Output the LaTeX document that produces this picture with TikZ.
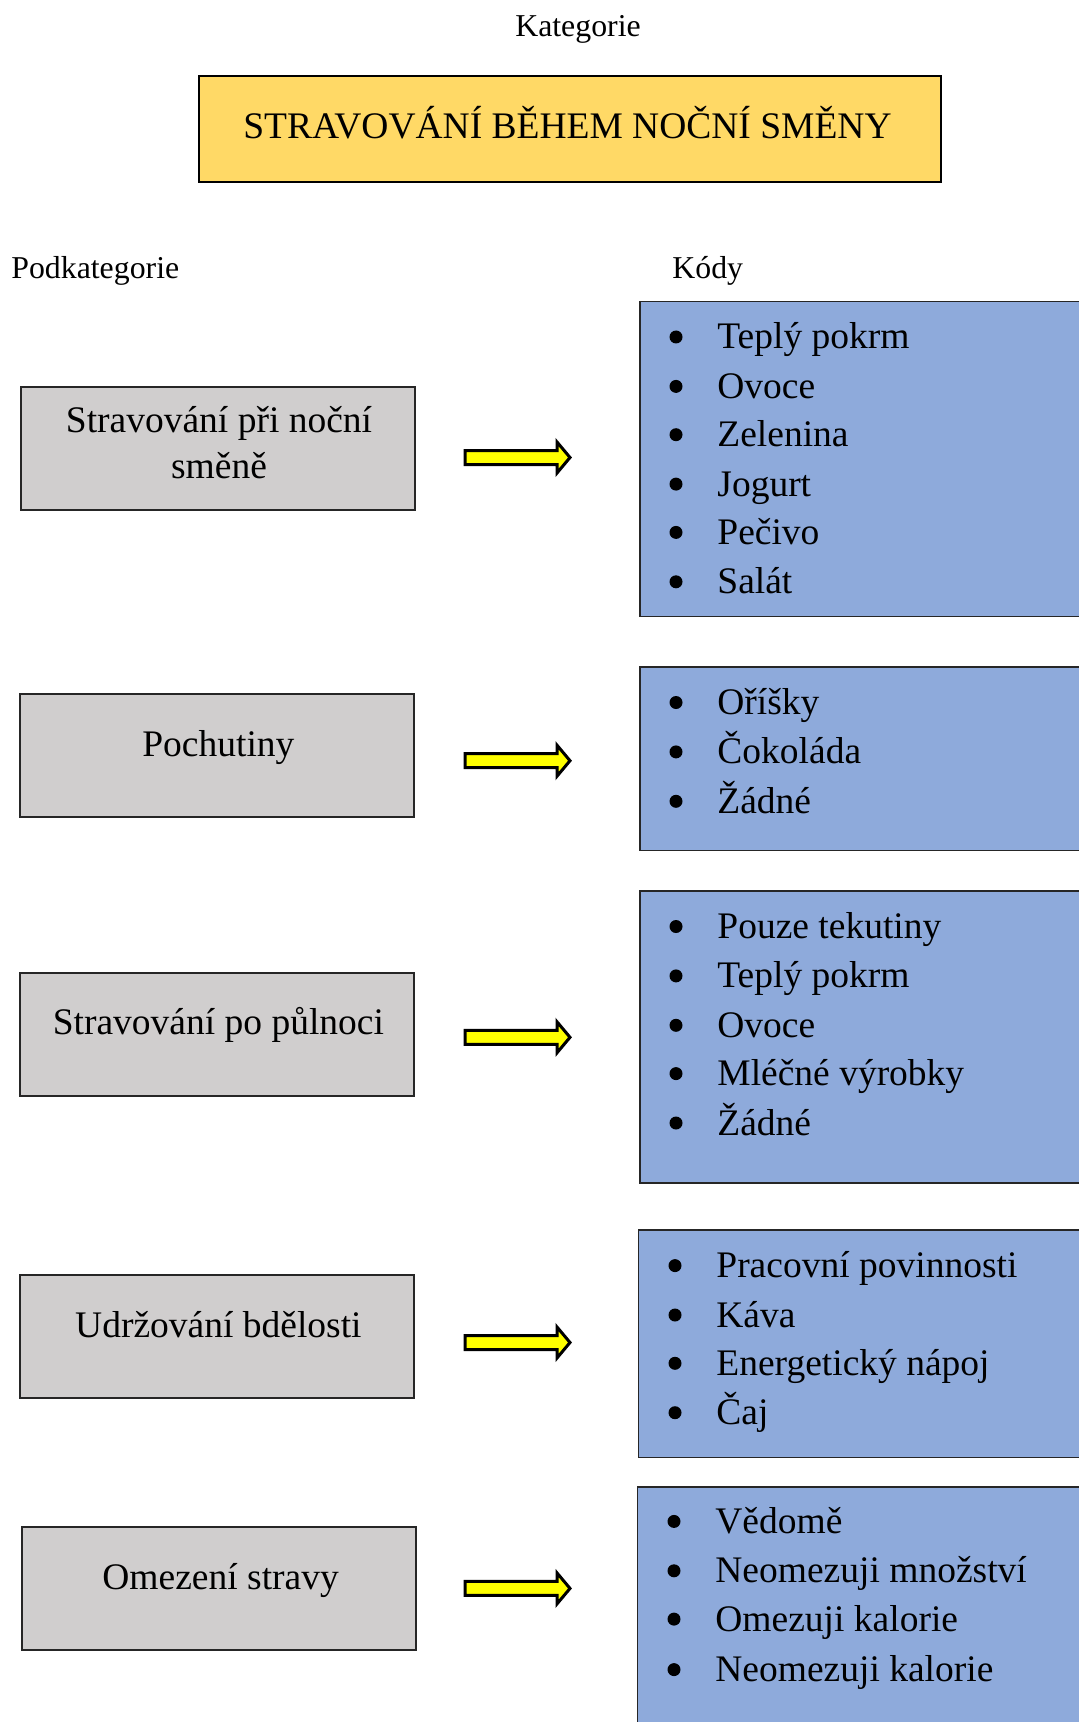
\documentclass[tikz,border=0pt]{standalone}
\usepackage{fontspec}
\setmainfont{Liberation Serif}
\definecolor{titlefill}{HTML}{FFD966}
\definecolor{subfill}{HTML}{D0CECE}
\definecolor{codefill}{HTML}{8EAADB}
\definecolor{arrowfill}{HTML}{FFFF00}
\tikzset{
  headlabel/.style={font=\fontsize{15.9pt}{19pt}\selectfont, inner sep=0pt},
  titlebox/.style={draw=black, line width=1.2pt, fill=titlefill, inner sep=0pt,
    anchor=north west},
  subbox/.style={draw=black!85, line width=1pt, fill=subfill, inner sep=0pt,
    anchor=north west, minimum width=197pt, minimum height=61.5pt},
  subtext/.style={font=\fontsize{18.75pt}{23pt}\selectfont, inner sep=0pt, align=center},
  codebox/.style={draw=black!85, line width=0.8pt, fill=codefill, inner sep=0pt,
    anchor=north west, minimum width=240pt},
  itemtext/.style={font=\fontsize{18.75pt}{23pt}\selectfont, inner sep=0pt, anchor=base west},
  blockarrow/.style={draw=black, line width=1.5pt, fill=arrowfill, line join=miter},
}
% one bullet entry: name, bullet x, bullet y, text
\newcommand{\codeitem}[4]{%
  \fill (#2,#3) circle[radius=6.5];
  \node[itemtext] (#1) at (#2+41,#3+12) {#4};
}
\begin{document}
\begin{tikzpicture}[x=0.5pt, y=-0.5pt]
\useasboundingbox (0,0) rectangle (1079,1722);

% headings
\node[headlabel, anchor=base] (kat) at (578,37) {Kategorie};
\node[headlabel, anchor=base west] (podkat) at (11,278.5) {Podkategorie};
\node[headlabel, anchor=base west] (kody) at (672,278.5) {Kódy};

% main category
\node[titlebox, minimum width=371pt, minimum height=53.25pt] (title) at (197.6,74.6) {};
\node[subtext, anchor=base] (titletext) at (567.5,138.2) {STRAVOVÁNÍ BĚHEM NOČNÍ SMĚNY};

% subcategory boxes
\node[subbox] (s1) at (19.8,386.4) {};
\node[subbox] (s2) at (18.7,692.6) {};
\node[subbox] (s3) at (18.7,971.5) {};
\node[subbox] (s4) at (18.7,1274.4) {};
\node[subbox] (s5) at (20.9,1525.8) {};

\node[subtext] (s1t) at (219,443) {Stravování při noční\\směně};
\node[subtext, anchor=base] (s2t) at (218.4,756.2) {Pochutiny};
\node[subtext, anchor=base] (s3t) at (218.4,1034) {Stravování po půlnoci};
\node[subtext, anchor=base] (s4t) at (218.4,1337) {Udržování bdělosti};
\node[subtext, anchor=base] (s5t) at (220.6,1589.4) {Omezení stravy};

% code boxes (running off the right edge)
\begin{scope}
\clip (0,0) rectangle (1079,1722);
\node[codebox, minimum height=157.5pt] (k1) at (638.9,300.8) {};
\node[codebox, minimum height=91.65pt] (k2) at (638.9,666.3) {};
\node[codebox, minimum height=146pt] (k3) at (638.9,890.2) {};
\node[codebox, minimum height=113.65pt] (k4) at (637.8,1229.4) {};
\node[codebox, minimum height=130pt] (k5) at (636.7,1486.3) {};
\end{scope}

% block arrows
\foreach \c in {457.5,760.7,1037.3,1342.5,1588.4}{
  \draw[blockarrow] (465,\c-7) -- (557,\c-7) -- (557,\c-15.5) -- (570,\c)
    -- (557,\c+15.5) -- (557,\c+7) -- (465,\c+7) -- cycle;
}

% bullet lists
\codeitem{a1}{676}{337}{Teplý pokrm}
\codeitem{a2}{676}{386.4}{Ovoce}
\codeitem{a3}{676}{434.7}{Zelenina}
\codeitem{a4}{676}{484.1}{Jogurt}
\codeitem{a5}{676}{532.4}{Pečivo}
\codeitem{a6}{676}{581.8}{Salát}

\codeitem{b1}{676}{702.5}{Oříšky}
\codeitem{b2}{676}{751.9}{Čokoláda}
\codeitem{b3}{676}{801.3}{Žádné}

\codeitem{c1}{676}{926.5}{Pouze tekutiny}
\codeitem{c2}{676}{975.9}{Teplý pokrm}
\codeitem{c3}{676}{1025.3}{Ovoce}
\codeitem{c4}{676}{1073.6}{Mléčné výrobky}
\codeitem{c5}{676}{1123}{Žádné}

\codeitem{d1}{675}{1265.6}{Pracovní povinnosti}
\codeitem{d2}{675}{1315}{Káva}
\codeitem{d3}{675}{1363.3}{Energetický nápoj}
\codeitem{d4}{675}{1412.7}{Čaj}

\codeitem{e1}{674}{1521.4}{Vědomě}
\codeitem{e2}{674}{1570.8}{Neomezuji množství}
\codeitem{e3}{674}{1619.1}{Omezuji kalorie}
\codeitem{e4}{674}{1669.6}{Neomezuji kalorie}
\end{tikzpicture}
\end{document}
